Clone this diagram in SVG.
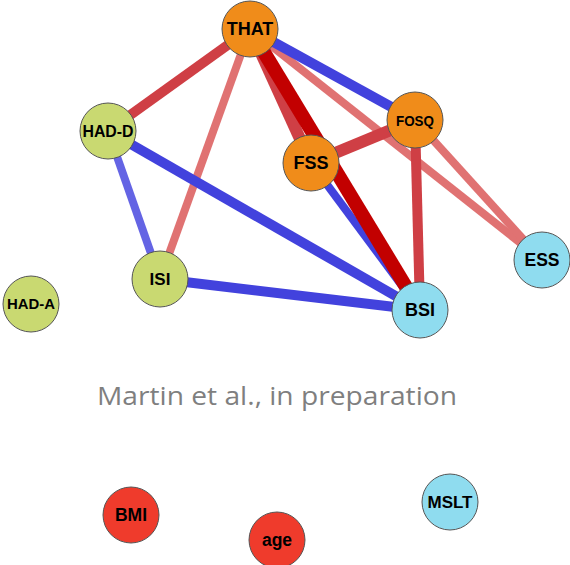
<svg xmlns="http://www.w3.org/2000/svg" width="570" height="565" viewBox="0 0 570 565">
<style>
.n{stroke:#555;stroke-width:1}
.o{fill:#f08c1a}.g{fill:#c9d971}.c{fill:#8fdcef}.r{fill:#ef3b2c}
.t{font-family:"Liberation Sans",Arial,sans-serif;font-weight:bold;fill:#000;text-anchor:middle;dominant-baseline:central}
.e{fill:none;stroke-linecap:butt}
.b{stroke:#4242dd}.lb{stroke:#6464e4}.rd{stroke:#cf3f45}.lr{stroke:#e07272}.dr{stroke:#c20000}
</style>
<rect width="570" height="565" fill="#fff"/>
<g id="edges">
<line class="e lr" x1="250" y1="29" x2="542" y2="260" stroke-width="8"/>
<line class="e lr" x1="415" y1="120" x2="542" y2="260" stroke-width="8"/>
<line class="e lr" x1="250" y1="29" x2="160" y2="279" stroke-width="8"/>
<line class="e rd" x1="250" y1="29" x2="108" y2="131" stroke-width="10"/>
<line class="e b" x1="250" y1="29" x2="415" y2="120" stroke-width="10"/>
<line class="e lb" x1="108" y1="131" x2="160" y2="279" stroke-width="8"/>
<line class="e b" x1="108" y1="131" x2="420" y2="310" stroke-width="10"/>
<line class="e b" x1="160" y1="279" x2="420" y2="310" stroke-width="10"/>
<line class="e b" x1="311" y1="163" x2="420" y2="310" stroke-width="8"/>
<line class="e rd" x1="415" y1="120" x2="420" y2="310" stroke-width="10"/>
<line class="e rd" x1="250" y1="29" x2="311" y2="163" stroke-width="12"/>
<line class="e dr" x1="250" y1="29" x2="420" y2="310" stroke-width="14"/>
<line class="e rd" x1="311" y1="163" x2="415" y2="120" stroke-width="12"/>
</g>
<g id="THAT"><circle class="n o" cx="250" cy="29" r="28"/><text class="t" x="250" y="29" font-size="18">THAT</text></g>
<g id="HAD-D"><circle class="n g" cx="108" cy="131" r="28"/><text class="t" x="108" y="131" font-size="16" textLength="51" lengthAdjust="spacingAndGlyphs">HAD-D</text></g>
<g id="FOSQ"><circle class="n o" cx="415" cy="120" r="28"/><text class="t" x="415" y="120" font-size="15" textLength="38" lengthAdjust="spacingAndGlyphs">FOSQ</text></g>
<g id="FSS"><circle class="n o" cx="311" cy="163" r="28"/><text class="t" x="311" y="163" font-size="18">FSS</text></g>
<g id="ISI"><circle class="n g" cx="160" cy="279" r="28"/><text class="t" x="160" y="279" font-size="17">ISI</text></g>
<g id="HAD-A"><circle class="n g" cx="31" cy="304" r="28"/><text class="t" x="31" y="304" font-size="14" textLength="48" lengthAdjust="spacingAndGlyphs">HAD-A</text></g>
<g id="ESS"><circle class="n c" cx="542" cy="260" r="28"/><text class="t" x="542" y="260" font-size="17.5">ESS</text></g>
<g id="BSI"><circle class="n c" cx="420" cy="310" r="28"/><text class="t" x="420" y="310" font-size="18">BSI</text></g>
<g id="BMI"><circle class="n r" cx="131" cy="515" r="28"/><text class="t" x="131" y="515" font-size="17.5">BMI</text></g>
<g id="age"><circle class="n r" cx="277" cy="540" r="28"/><text class="t" x="277" y="540" font-size="17.5">age</text></g>
<g id="MSLT"><circle class="n c" cx="450" cy="502" r="28"/><text class="t" x="450" y="502" font-size="17">MSLT</text></g>
<text x="277" y="405" font-family="'Open Sans','Liberation Sans',sans-serif" font-size="26" fill="#7f7f7f" text-anchor="middle" textLength="360" lengthAdjust="spacingAndGlyphs">Martin et al., in preparation</text>
</svg>
